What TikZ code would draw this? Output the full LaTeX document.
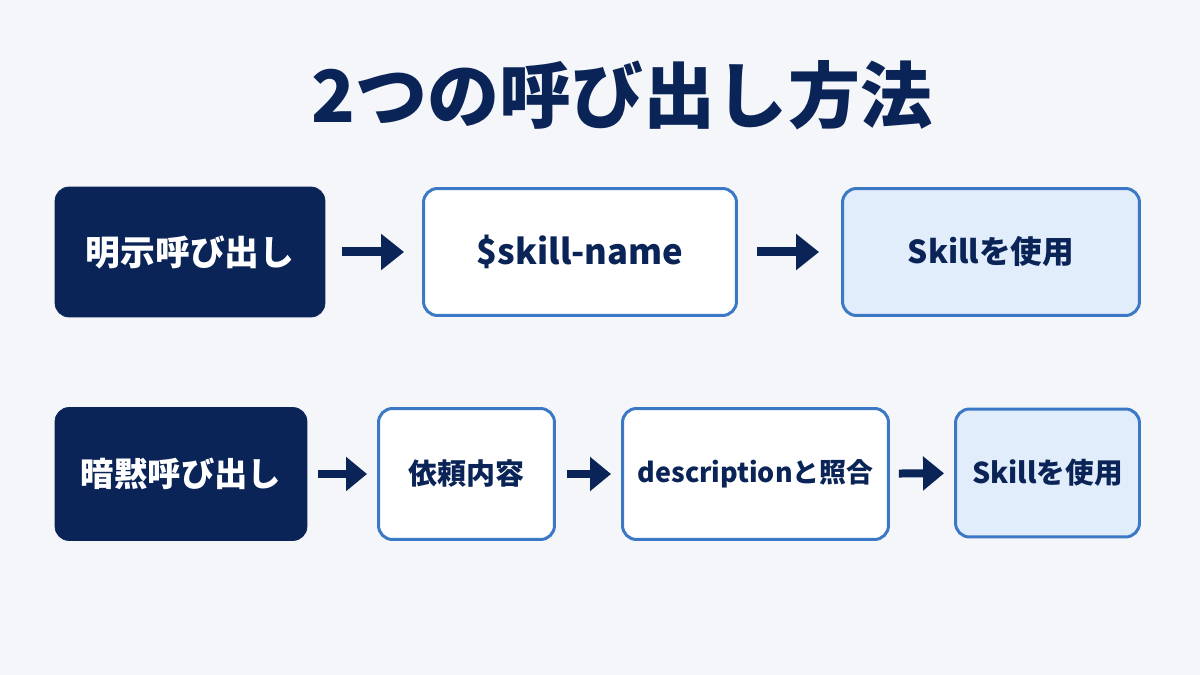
\documentclass[tikz,border=0pt]{standalone}
\usepackage{fontspec}
\setmainfont{Noto Sans CJK JP}
\usetikzlibrary{arrows.meta}
\definecolor{navy}{HTML}{0B2457}
\definecolor{edgeblue}{HTML}{3B78C6}
\definecolor{paleblue}{HTML}{E2EDFB}
\definecolor{bgcol}{HTML}{F4F6F9}
\tikzset{
  darkbox/.style={fill=navy,draw=navy,rounded corners=0.28cm,text=white,font=\bfseries},
  stepbox/.style={fill=white,draw=edgeblue,line width=1.7pt,rounded corners=0.28cm,text=navy,font=\bfseries},
  usebox/.style={stepbox,fill=paleblue},
  flow/.style={navy,line width=0.18cm,-{Triangle[length=0.46cm,width=0.7cm]}},
  flowsmall/.style={navy,line width=0.16cm,-{Triangle[length=0.42cm,width=0.66cm]}},
}
\begin{document}
\begin{tikzpicture}[x=0.02cm,y=-0.02cm]
  \fill[bgcol] (0,0) rectangle (1200,675);
  \useasboundingbox (0,0) rectangle (1200,675);

  \node[text=navy,font=\fontsize{41}{45}\selectfont\bfseries] (title) at (622,95) {2つの呼び出し方法};

  % explicit call
  \node[darkbox,minimum width=5.4cm,minimum height=2.6cm,font=\fontsize{19.8}{22}\selectfont\bfseries] (exp) at (190,252) {明示呼び出し};
  \node[stepbox,minimum width=6.26cm,minimum height=2.54cm,font=\fontsize{19.7}{22}\selectfont\bfseries] (name) at (580,252) {\$skill-name};
  \node[usebox,minimum width=5.94cm,minimum height=2.54cm,font=\fontsize{18}{20}\selectfont\bfseries] (use1) at (991,252) {Skillを使用};
  \draw[flow,shorten <=0.34cm,shorten >=0.36cm] (exp) -- (name);
  \draw[flow,shorten <=0.38cm,shorten >=0.44cm] (name) -- (use1);

  % implicit call
  \node[darkbox,minimum width=5.04cm,minimum height=2.66cm,font=\fontsize{19}{21}\selectfont\bfseries] (imp) at (181,474) {暗黙呼び出し};
  \node[stepbox,minimum width=3.52cm,minimum height=2.62cm,font=\fontsize{16.5}{18}\selectfont\bfseries] (req) at (466.5,474) {依頼内容};
  \node[stepbox,minimum width=5.32cm,minimum height=2.62cm,font=\fontsize{15.3}{17}\selectfont\bfseries] (desc) at (755.5,474) {descriptionと照合};
  \node[usebox,minimum width=3.68cm,minimum height=2.56cm,font=\fontsize{16.3}{18}\selectfont\bfseries] (use2) at (1047.5,473) {Skillを使用};
  \draw[flowsmall,shorten <=0.22cm,shorten >=0.2cm] (imp) -- (req);
  \draw[flowsmall,shorten <=0.22cm,shorten >=0.2cm] (req) -- (desc);
  \draw[flowsmall,shorten <=0.18cm,shorten >=0.2cm] (desc) -- (use2);
\end{tikzpicture}
\end{document}
